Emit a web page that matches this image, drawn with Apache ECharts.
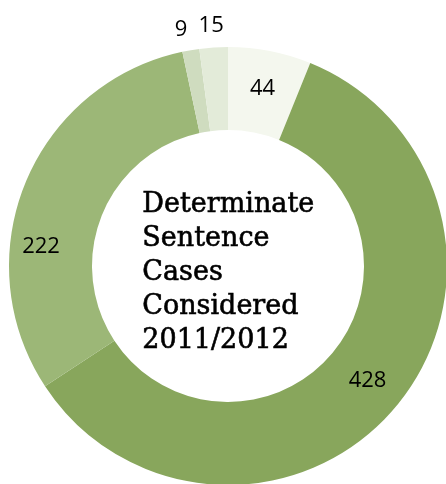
<!DOCTYPE html>
<html>
<head>
<meta charset="utf-8">
<script src="https://cdn.jsdelivr.net/npm/echarts@6/dist/echarts.min.js"></script>
<style>
  html, body { margin: 0; padding: 0; background: #ffffff; }
  #chart { width: 446px; height: 484px; }
</style>
</head>
<body>
<div id="chart"></div>
<script>
// Determinate sentence cases considered, 2011/2012 (clockwise from 12 o'clock)
const categories = ['A', 'B', 'C', 'D', 'E'];
const values = [44, 428, 222, 9, 15];
const colors = ['#f4f7ee', '#88a65c', '#9cb777', '#cfdcbf', '#e3ebd9'];
const labelSides = ['inside', 'inside', 'inside', 'outside', 'outside'];
const centerTitle = 'Determinate\nSentence\nCases\nConsidered\n2011/2012';

const chart = echarts.init(document.getElementById('chart'), null, { renderer: 'canvas' });

const data = categories.map((name, i) => ({
  name: name,
  value: values[i],
  itemStyle: { color: colors[i] },
  label: { position: labelSides[i] },
  labelLine: { show: false, length: 22, length2: 0 }
}));

// small nudges for labels that would otherwise crowd each other
const labelNudges = [[0, 0], [0, 0], [-20, 49], [-1, 1], [4, 0]];

chart.setOption({
  animation: false,
  graphic: [{
    type: 'text',
    left: 142,
    top: 188,
    style: {
      text: centerTitle,
      font: '27px "DejaVu Serif"',
      lineHeight: 34,
      fill: '#000000',
      stroke: '#000000',
      lineWidth: 0.6
    }
  }],
  series: [{
    type: 'pie',
    center: [228, 266],
    radius: [136, 219],
    startAngle: 90,
    clockwise: true,
    avoidLabelOverlap: false,
    silent: true,
    label: {
      show: true,
      formatter: '{c}',
      color: '#000000',
      fontFamily: '"Open Sans"',
      fontSize: 22
    },
    labelLayout: function (params) {
      const n = labelNudges[params.dataIndex];
      const out = { dx: n[0], dy: n[1] };
      if (params.dataIndex >= 3) {
        out.align = 'center';
        out.verticalAlign = 'middle';
      }
      return out;
    },
    data: data
  }]
});
</script>
</body>
</html>
